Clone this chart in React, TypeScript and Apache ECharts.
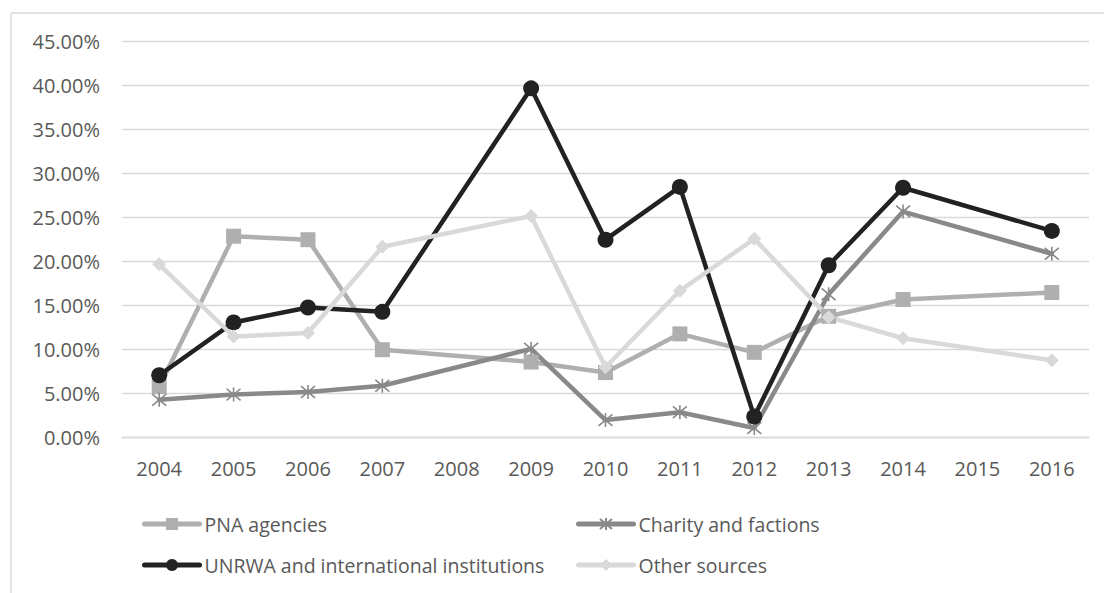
import React, { useEffect, useRef } from "react";
import * as echarts from "echarts";

const years = ["2004", "2005", "2006", "2007", "2008", "2009", "2010", "2011", "2012", "2013", "2014", "2015", "2016"];
const pnaAgencies = [5.8, 22.9, 22.5, 10.0, null, 8.6, 7.4, 11.8, 9.7, 13.8, 15.7, null, 16.5];
const charityFactions = [4.3, 4.9, 5.2, 5.9, null, 10.1, 2.0, 2.9, 1.1, 16.3, 25.7, null, 20.9];
const unrwaIntl = [7.1, 13.1, 14.8, 14.3, null, 39.7, 22.5, 28.5, 2.4, 19.6, 28.4, null, 23.5];
const otherSources = [19.7, 11.5, 11.9, 21.7, null, 25.2, 8.0, 16.7, 22.6, 13.7, 11.3, null, 8.8];

const FONT = "Open Sans";
const TEXT = "#595959";
const asterisk = "path://M0,0L10,10M10,0L0,10M5,-1L5,11";

export default function App() {
  const ref = useRef<HTMLDivElement>(null);
  useEffect(() => {
    if (!ref.current) return;
    const chart = echarts.init(ref.current, null, { renderer: "svg" });
    const mk = (name: string, data: (number | null)[], color: string, symbol: string, size: number, extra: any = {}) => ({
      name,
      type: "line",
      data,
      connectNulls: true,
      symbol,
      symbolSize: size,
      lineStyle: { color, width: 4.5, cap: "round", join: "round" },
      itemStyle: { color, ...extra },
      emphasis: { disabled: true },
    });
    const legendBase = {
      orient: "horizontal",
      itemWidth: 55,
      itemHeight: 15,
      textStyle: { fontFamily: FONT, fontSize: 19.5, color: TEXT },
      lineStyle: { width: 5, cap: "round" },
      selectedMode: false,
    };
    chart.setOption({
      animation: false,
      backgroundColor: "#ffffff",
      grid: { left: 122, right: 15, top: 41.7, bottom: 155.3 },
      xAxis: {
        type: "category",
        data: years,
        boundaryGap: true,
        axisTick: { show: false },
        axisLine: { lineStyle: { color: "#d9d9d9", width: 1.3 } },
        axisLabel: { fontFamily: FONT, fontSize: 20, color: TEXT, margin: 21 },
      },
      yAxis: {
        type: "value",
        min: 0,
        max: 45,
        interval: 5,
        axisLine: { show: false },
        axisTick: { show: false },
        splitLine: { lineStyle: { color: "#d9d9d9", width: 1.3 } },
        axisLabel: {
          fontFamily: FONT,
          fontSize: 20,
          color: TEXT,
          margin: 22,
          formatter: (v: number) => v.toFixed(2) + "%",
        },
      },
      legend: [
        { ...legendBase, left: 137, top: 509, data: ["PNA agencies"] },
        { ...legendBase, left: 571, top: 509, data: ["Charity and factions"] },
        { ...legendBase, left: 137, top: 550, data: ["UNRWA and international institutions"] },
        { ...legendBase, left: 571, top: 550, data: ["Other sources"] },
      ],
      series: [
        mk("PNA agencies", pnaAgencies, "#afafaf", "rect", 15),
        mk("Charity and factions", charityFactions, "#898989", asterisk, 14, { borderColor: "#898989", borderWidth: 1.6 }),
        mk("UNRWA and international institutions", unrwaIntl, "#222222", "circle", 16),
        mk("Other sources", otherSources, "#d9d9d9", "diamond", 14),
      ],
      graphic: [
        { type: "line", shape: { x1: 11, y1: 13, x2: 1104, y2: 13 }, style: { stroke: "#d9d9d9", lineWidth: 1.3 } },
        { type: "line", shape: { x1: 11, y1: 13, x2: 11, y2: 593 }, style: { stroke: "#d9d9d9", lineWidth: 1.3 } },
      ],
    });
    return () => chart.dispose();
  }, []);
  return <div ref={ref} style={{ position: "fixed", left: 0, top: 0, width: 1104, height: 593 }} />;
}
